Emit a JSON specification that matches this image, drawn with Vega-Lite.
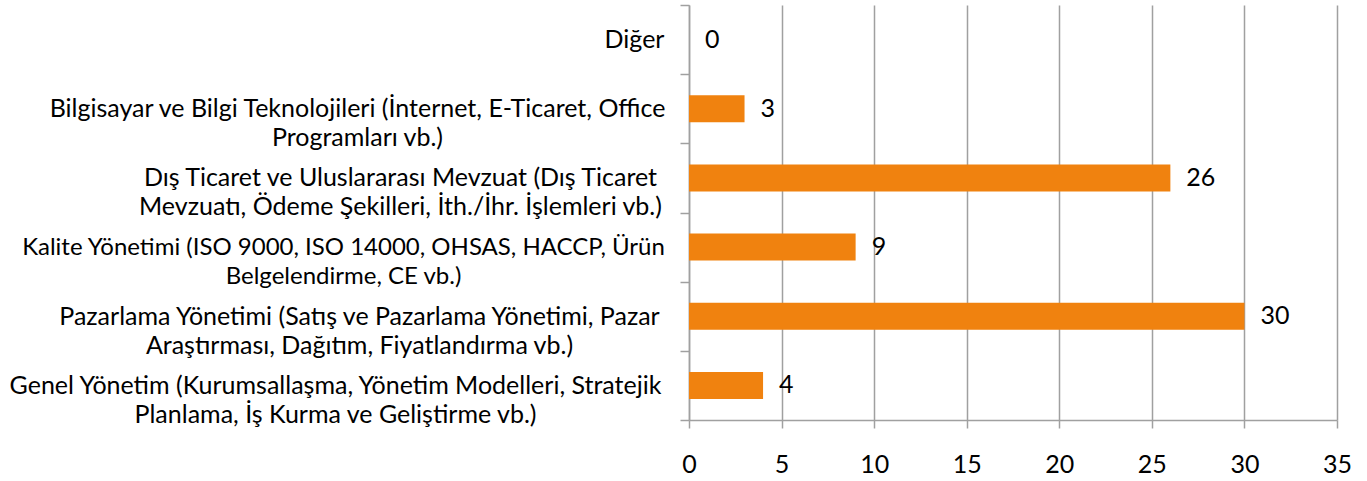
{
  "$schema": "https://vega.github.io/schema/vega-lite/v6.json",
  "width": 648,
  "height": 415,
  "autosize": {"type": "none"},
  "padding": {"left": 689, "top": 5, "right": 30, "bottom": 61},
  "background": "white",
  "config": {
    "view": {"stroke": null},
    "font": "Lato"
  },
  "data": {
    "values": [
      {"category": "Diğer", "value": 0},
      {"category": "Bilgisayar ve Bilgi Teknolojileri (İnternet, E-Ticaret, Office|Programları vb.)", "value": 3},
      {"category": "Dış Ticaret ve Uluslararası Mevzuat (Dış Ticaret|Mevzuatı, Ödeme Şekilleri, İth./İhr. İşlemleri vb.)", "value": 26},
      {"category": "Kalite Yönetimi (ISO 9000, ISO 14000, OHSAS, HACCP, Ürün|Belgelendirme, CE vb.)", "value": 9},
      {"category": "Pazarlama Yönetimi (Satış ve Pazarlama Yönetimi, Pazar|Araştırması, Dağıtım, Fiyatlandırma vb.)", "value": 30},
      {"category": "Genel Yönetim (Kurumsallaşma, Yönetim Modelleri, Stratejik|Planlama, İş Kurma ve Geliştirme vb.)", "value": 4}
    ]
  },
  "encoding": {
    "y": {
      "field": "category",
      "type": "nominal",
      "sort": null,
      "title": null,
      "scale": {"paddingInner": 0, "paddingOuter": 0},
      "axis": {
        "labelExpr": "split(datum.label, '|')",
        "labelFont": "Lato",
        "labelFontSize": {
          "condition": {"test": "datum.value === 'Kalite Yönetimi (ISO 9000, ISO 14000, OHSAS, HACCP, Ürün|Belgelendirme, CE vb.)'", "value": 24},
          "value": 25
        },
        "labelColor": "#000000",
        "labelLineHeight": 29,
        "labelLimit": 0,
        "labelOverlap": false,
        "labelAlign": "center",
        "labelBaseline": "middle",
        "labelPadding": {
          "condition": [
            {"test": "datum.value === 'Diğer'", "value": 46},
            {"test": "datum.value === 'Bilgisayar ve Bilgi Teknolojileri (İnternet, E-Ticaret, Office|Programları vb.)'", "value": 323},
            {"test": "datum.value === 'Dış Ticaret ve Uluslararası Mevzuat (Dış Ticaret|Mevzuatı, Ödeme Şekilleri, İth./İhr. İşlemleri vb.)'", "value": 280},
            {"test": "datum.value === 'Kalite Yönetimi (ISO 9000, ISO 14000, OHSAS, HACCP, Ürün|Belgelendirme, CE vb.)'", "value": 337},
            {"test": "datum.value === 'Pazarlama Yönetimi (Satış ve Pazarlama Yönetimi, Pazar|Araştırması, Dağıtım, Fiyatlandırma vb.)'", "value": 321}
          ],
          "value": 345
        },
        "tickBand": "extent",
        "ticks": true,
        "tickSize": 9,
        "tickColor": "#A0A0A0",
        "tickWidth": 1.5,
        "domainColor": "#A0A0A0",
        "domainWidth": 1.5,
        "grid": false
      }
    }
  },
  "layer": [
    {
      "mark": {"type": "bar", "color": "#F0820F", "height": {"band": 0.39}},
      "encoding": {
        "x": {
          "field": "value",
          "type": "quantitative",
          "title": null,
          "scale": {"domain": [0, 35], "nice": false},
          "axis": {
            "values": [0, 5, 10, 15, 20, 25, 30, 35],
            "grid": true,
            "gridColor": "#A0A0A0",
            "gridWidth": 1.5,
            "domainColor": "#A0A0A0",
            "domainWidth": 1.5,
            "tickColor": "#A0A0A0",
            "tickWidth": 1.5,
            "tickSize": 8,
            "labelFont": "Lato",
            "labelFontSize": 25,
            "labelColor": "#000000",
            "labelPadding": 24,
            "labelFlush": false
          }
        }
      }
    },
    {
      "mark": {"type": "text", "align": "left", "baseline": "middle", "dx": 16, "font": "Lato", "fontSize": 25, "color": "#000000"},
      "encoding": {
        "x": {"field": "value", "type": "quantitative"},
        "text": {"field": "value", "type": "quantitative"}
      }
    }
  ]
}
